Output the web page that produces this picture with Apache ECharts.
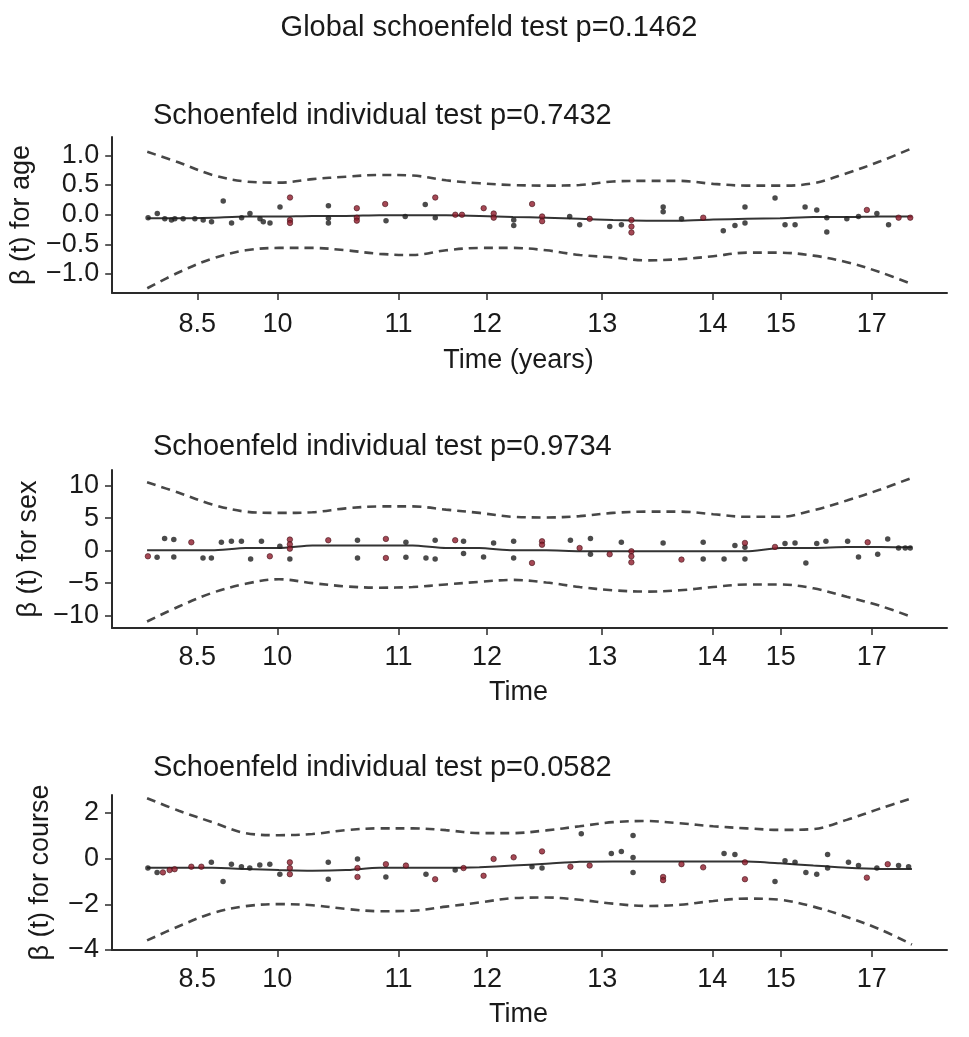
<!DOCTYPE html>
<html>
<head>
<meta charset="utf-8">
<script src="https://cdn.jsdelivr.net/npm/echarts@6/dist/echarts.min.js"></script>
<style>
html,body{margin:0;padding:0;background:#ffffff;}
#chart{width:969px;height:1037px;}
</style>
</head>
<body>
<div id="chart"></div>
<script>
// ---------- text ----------
const globalTitle = 'Global schoenfeld test p=0.1462';
const panelTitles = [
  'Schoenfeld individual test p=0.7432',
  'Schoenfeld individual test p=0.9734',
  'Schoenfeld individual test p=0.0582'
];
const yNames = ['\u03b2 (t) for age', '\u03b2 (t) for sex', '\u03b2 (t) for course'];
const xNames = ['Time (years)', 'Time', 'Time'];

// ---------- x axis (transformed time scale) ----------
const xTickPositions = [10.2, 19.8, 34.3, 44.9, 58.7, 71.9, 80.1, 91.0];
const xTickLabels = ['8.5', '10', '11', '12', '13', '14', '15', '17'];

// ---------- y ticks ----------
const ageTicks = [-1, -0.5, 0, 0.5, 1];
const sexTicks = [-10, -5, 0, 5, 10];
const courseTicks = [-4, -2, 0, 2];

// ---------- common grid of times for the fitted curves ----------
const bandTime = [4.2, 8, 12, 16, 20, 24, 28, 32, 36, 40, 44, 48, 52, 56, 60, 64, 68, 72, 76, 80, 84, 88, 92, 95.8];

// ---------- age ----------
const ageUpper = [1.06, 0.88, 0.67, 0.56, 0.54, 0.6, 0.64, 0.67, 0.66, 0.58, 0.53, 0.5, 0.49, 0.5, 0.56, 0.57, 0.57, 0.52, 0.49, 0.49, 0.53, 0.7, 0.9, 1.12];
const ageLower = [-1.24, -0.97, -0.74, -0.6, -0.56, -0.56, -0.6, -0.66, -0.68, -0.6, -0.56, -0.56, -0.6, -0.68, -0.72, -0.77, -0.75, -0.7, -0.64, -0.64, -0.69, -0.8, -0.97, -1.17];
const ageFit = [-0.06, -0.06, -0.05, -0.03, -0.03, -0.02, -0.02, -0.01, -0.01, -0.01, -0.02, -0.04, -0.05, -0.07, -0.09, -0.1, -0.1, -0.08, -0.07, -0.06, -0.04, -0.04, -0.03, -0.03];
const ageBlack = [[4.3,-0.05],[5.4,0.02],[6.3,-0.07],[7.1,-0.09],[7.5,-0.07],[8.5,-0.07],[9.9,-0.07],[10.9,-0.09],[11.9,-0.12],[13.3,0.23],[14.3,-0.14],[15.5,-0.05],[16.5,0.02],[17.7,-0.07],[18.1,-0.12],[18.9,-0.14],[20.1,0.13],[25.9,0.15],[25.9,-0.06],[25.9,-0.14],[32.8,-0.1],[35.1,-0.03],[37.5,0.17],[38.7,-0.05],[48.1,-0.09],[48.1,-0.18],[54.8,-0.03],[56.0,-0.17],[59.6,-0.2],[61.0,-0.17],[66.0,0.13],[66.0,0.05],[68.2,-0.07],[73.2,-0.27],[74.6,-0.18],[75.8,0.13],[75.8,-0.14],[79.4,0.28],[80.6,-0.17],[81.8,-0.17],[83.0,0.13],[84.4,0.08],[85.6,-0.05],[85.6,-0.29],[88.0,-0.07],[89.4,-0.03],[91.6,0.02],[93.0,-0.17]];
const ageRed = [[21.3,0.29],[21.3,-0.09],[21.3,-0.14],[29.3,0.11],[29.3,-0.05],[29.3,-0.1],[32.7,0.18],[38.7,0.29],[41.1,0.0],[41.9,0.0],[44.5,0.11],[45.7,0.02],[45.7,-0.05],[50.3,0.18],[51.5,-0.03],[51.5,-0.11],[57.2,-0.07],[62.2,-0.09],[62.2,-0.2],[62.2,-0.3],[70.8,-0.05],[90.4,0.08],[94.2,-0.05],[95.6,-0.05]];

// ---------- sex ----------
const sexUpper = [10.5, 8.9, 7.1, 6.0, 5.8, 5.9, 6.5, 6.8, 6.8, 6.3, 5.8, 5.2, 5.1, 5.3, 5.8, 6.0, 6.0, 5.6, 5.2, 5.2, 6.2, 7.7, 9.4, 11.2];
const sexLower = [-10.9, -8.6, -6.5, -5.1, -4.4, -5.0, -5.5, -5.7, -5.6, -5.2, -4.8, -4.5, -4.9, -5.6, -6.1, -6.3, -6.1, -5.6, -5.2, -5.2, -5.8, -7.1, -8.5, -10.2];
const sexFit = [0.05, 0.05, 0.05, 0.4, 0.4, 0.77, 0.77, 0.77, 0.77, 0.4, 0.4, 0.05, 0.05, -0.1, -0.1, -0.1, -0.1, -0.1, -0.1, 0.4, 0.4, 0.55, 0.55, 0.5];
const sexBlack = [[5.4,-1.0],[6.3,1.85],[7.4,1.7],[7.4,-0.97],[10.9,-1.13],[11.9,-1.13],[13.1,1.28],[14.3,1.44],[15.5,1.44],[16.6,-1.28],[17.9,1.44],[20.1,0.67],[21.3,-1.28],[29.4,1.6],[29.4,-1.13],[35.2,1.28],[35.2,-1.0],[37.6,-1.13],[38.7,1.6],[38.7,-1.28],[42.1,1.44],[42.1,-0.46],[44.5,-0.97],[45.7,1.18],[48.1,1.44],[48.1,-1.13],[54.9,1.6],[57.3,1.85],[57.3,-0.56],[61.0,1.28],[66.0,1.18],[70.8,1.28],[70.8,-1.28],[73.3,-1.28],[74.6,0.77],[75.8,0.5],[75.8,-1.28],[80.6,1.08],[81.8,1.18],[83.1,-1.9],[84.4,1.08],[85.5,1.44],[88.1,1.44],[89.4,-0.97],[91.7,-0.56],[92.9,1.8],[94.2,0.4],[95.0,0.4],[95.6,0.4]];
const sexRed = [[4.3,-0.87],[9.5,1.28],[18.9,-0.87],[21.3,1.7],[21.3,0.97],[21.3,0.3],[25.9,1.6],[32.8,1.8],[32.8,-1.13],[41.1,1.6],[50.3,-1.9],[51.5,1.44],[51.5,0.9],[56.0,0.4],[59.6,-0.56],[62.2,-0.1],[62.2,-0.87],[62.2,-1.8],[68.2,-1.38],[75.8,1.18],[79.4,0.57],[90.5,1.28]];

// ---------- course ----------
const courseUpper = [2.65, 2.1, 1.6, 1.12, 1.03, 1.08, 1.25, 1.33, 1.33, 1.25, 1.12, 1.12, 1.24, 1.42, 1.6, 1.65, 1.55, 1.42, 1.33, 1.26, 1.3, 1.7, 2.2, 2.65];
const courseLower = [-3.58, -2.96, -2.39, -2.08, -1.99, -2.04, -2.2, -2.3, -2.28, -2.1, -1.92, -1.73, -1.7, -1.8, -1.97, -2.07, -2.02, -1.85, -1.75, -1.8, -2.1, -2.55, -3.1, -3.76];
const courseFit = [-0.4, -0.4, -0.4, -0.45, -0.5, -0.53, -0.5, -0.4, -0.4, -0.4, -0.37, -0.3, -0.22, -0.13, -0.12, -0.12, -0.12, -0.12, -0.12, -0.2, -0.3, -0.4, -0.45, -0.45];
const courseBlack = [[4.3,-0.41],[5.4,-0.6],[11.9,-0.16],[13.3,-1.0],[14.3,-0.24],[15.5,-0.35],[16.5,-0.41],[17.7,-0.28],[18.9,-0.24],[20.1,-0.68],[25.9,-0.16],[25.9,-0.9],[29.4,-0.01],[32.8,-0.8],[37.6,-0.68],[41.1,-0.5],[50.3,-0.35],[51.5,-0.41],[56.2,1.09],[59.8,0.23],[61.0,0.32],[62.4,1.02],[62.4,0.05],[62.4,-0.6],[73.3,0.23],[74.6,0.18],[79.4,-1.0],[80.6,-0.09],[81.8,-0.16],[83.1,-0.6],[84.4,-0.68],[85.7,0.18],[85.7,-0.41],[88.2,-0.16],[89.4,-0.3],[91.6,-0.41],[94.2,-0.3],[95.4,-0.35]];
const courseRed = [[6.1,-0.6],[6.9,-0.5],[7.5,-0.46],[9.5,-0.35],[10.7,-0.35],[21.3,-0.16],[21.3,-0.41],[21.3,-0.68],[29.4,-0.41],[29.4,-0.8],[32.8,-0.24],[35.2,-0.3],[38.7,-0.9],[42.1,-0.41],[44.5,-0.75],[45.7,-0.01],[48.1,0.06],[51.5,0.32],[54.9,-0.35],[57.2,-0.3],[66.0,-0.8],[66.0,-0.94],[68.2,-0.24],[70.8,-0.38],[75.8,-0.16],[75.8,-0.9],[90.4,-0.83],[92.9,-0.24]];

// ---------- build ----------
const FONT = '"Liberation Sans", Arial, Helvetica, sans-serif';
const TXT = '#1a1a1a';
const AX = '#2a2a2a';

const panels = [
  {upper: ageUpper, lower: ageLower, fit: ageFit, black: ageBlack, red: ageRed, ticks: ageTicks, dec: 1,
   min: -1.32, max: 1.31, top: 137, height: 156, nameGap: 74, titleTop: 96, labelMargin: 18, xNameGap: 54},
  {upper: sexUpper, lower: sexLower, fit: sexFit, black: sexBlack, red: sexRed, ticks: sexTicks, dec: 0,
   min: -11.9, max: 12.4, top: 470, height: 158, nameGap: 68, titleTop: 427, labelMargin: 16, xNameGap: 51},
  {upper: courseUpper, lower: courseLower, fit: courseFit, black: courseBlack, red: courseRed, ticks: courseTicks, dec: 0,
   min: -4.0, max: 2.79, top: 795, height: 155, nameGap: 58, titleTop: 748, labelMargin: 16, xNameGap: 51}
];

const pair = (xs, ys) => xs.map((x, i) => [x, ys[i]]);
const fmtMinus = s => s.replace('-', '\u2212');

const option = {
  animation: false,
  backgroundColor: '#ffffff',
  textStyle: {fontFamily: FONT},
  title: [{
    text: globalTitle, left: 484, top: 8, textAlign: 'center',
    textStyle: {fontFamily: FONT, fontSize: 29, fontWeight: 'normal', color: TXT}
  }].concat(panels.map((p, i) => ({
    text: panelTitles[i], left: 148, top: p.titleTop,
    textStyle: {fontFamily: FONT, fontSize: 29, fontWeight: 'normal', color: TXT}
  }))),
  grid: panels.map(p => ({left: 112, width: 835, top: p.top, height: p.height, containLabel: false})),
  xAxis: panels.map((p, i) => ({
    type: 'value', gridIndex: i, min: 0, max: 100,
    name: xNames[i], nameLocation: 'middle', nameGap: p.xNameGap,
    nameTextStyle: {fontFamily: FONT, fontSize: 27, color: TXT, padding: [0, 22, 0, 0]},
    axisLine: {show: true, onZero: false, lineStyle: {color: AX, width: 2}},
    axisTick: {show: true, inside: false, length: 7, customValues: xTickPositions, lineStyle: {color: AX, width: 1.5}},
    axisLabel: {show: true, margin: p.labelMargin, customValues: xTickPositions, fontFamily: FONT, fontSize: 27, color: TXT,
      formatter: v => { const k = xTickPositions.findIndex(q => Math.abs(q - v) < 1e-6); return k >= 0 ? xTickLabels[k] : ''; }},
    splitLine: {show: false}
  })),
  yAxis: panels.map((p, i) => ({
    type: 'value', gridIndex: i, min: p.min, max: p.max,
    name: yNames[i], nameLocation: 'middle', nameGap: p.nameGap,
    nameTextStyle: {fontFamily: FONT, fontSize: 27, color: TXT},
    axisLine: {show: true, onZero: false, lineStyle: {color: AX, width: 2}},
    axisTick: {show: true, inside: false, length: 7, customValues: p.ticks, lineStyle: {color: AX, width: 1.5}},
    axisLabel: {show: true, margin: 13, customValues: p.ticks, fontFamily: FONT, fontSize: 27, color: TXT,
      formatter: v => fmtMinus(Number(v).toFixed(p.dec))},
    splitLine: {show: false}
  })),
  series: []
};

panels.forEach((p, i) => {
  const dash = {color: '#474747', width: 2.6, type: [9, 6]};
  option.series.push({
    type: 'line', xAxisIndex: i, yAxisIndex: i, data: pair(bandTime, p.upper),
    showSymbol: false, smooth: 0.35, lineStyle: dash, z: 2, silent: true
  });
  option.series.push({
    type: 'line', xAxisIndex: i, yAxisIndex: i, data: pair(bandTime, p.lower),
    showSymbol: false, smooth: 0.35, lineStyle: dash, z: 2, silent: true
  });
  option.series.push({
    type: 'line', xAxisIndex: i, yAxisIndex: i, data: pair(bandTime, p.fit),
    showSymbol: false, smooth: 0.2, lineStyle: {color: '#333333', width: 2}, z: 3, silent: true
  });
  option.series.push({
    type: 'scatter', xAxisIndex: i, yAxisIndex: i, data: p.black,
    symbol: 'circle', symbolSize: 5.5, itemStyle: {color: '#1e1e1e'}, z: 4, silent: true
  });
  option.series.push({
    type: 'scatter', xAxisIndex: i, yAxisIndex: i, data: p.red,
    symbol: 'circle', symbolSize: 5.5, itemStyle: {color: '#8f1a2b', borderColor: '#3a0a10', borderWidth: 0.7}, z: 5, silent: true
  });
});

const chart = echarts.init(document.getElementById('chart'), null, {renderer: 'canvas'});
chart.setOption(option);
</script>
</body>
</html>
